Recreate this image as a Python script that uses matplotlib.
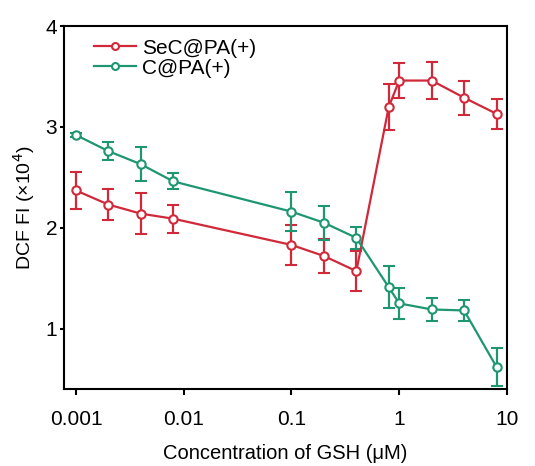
import matplotlib
matplotlib.use("Agg")
import matplotlib.pyplot as plt
from matplotlib.lines import Line2D

conc = [0.001, 0.002, 0.004, 0.008, 0.1, 0.2, 0.4, 0.8, 1, 2, 4, 8]
sec_vals = [2.37, 2.23, 2.14, 2.09, 1.83, 1.72, 1.57, 3.20, 3.46, 3.46, 3.29, 3.13]
sec_err = [0.18, 0.15, 0.20, 0.14, 0.20, 0.17, 0.20, 0.23, 0.17, 0.18, 0.17, 0.15]
c_vals = [2.92, 2.76, 2.63, 2.46, 2.16, 2.05, 1.90, 1.41, 1.25, 1.19, 1.18, 0.62]
c_err = [0.02, 0.09, 0.17, 0.08, 0.19, 0.17, 0.11, 0.21, 0.15, 0.11, 0.10, 0.19]
xticks = [0.001, 0.01, 0.1, 1, 10]
xticklabels = ["0.001", "0.01", "0.1", "1", "10"]
yticks = [1, 2, 3, 4]

plt.rcParams['font.family'] = ['Liberation Sans', 'DejaVu Sans']

fig = plt.figure(figsize=(5.35, 4.66), dpi=100)
ax = fig.add_axes([0.1196, 0.165, 0.828, 0.779])

red = '#d1283a'
green = '#1e9672'
handles = []
for vals, err, col, lab in [(sec_vals, sec_err, red, 'SeC@PA(+)'),
                            (c_vals, c_err, green, 'C@PA(+)')]:
    ax.errorbar(conc, vals, yerr=err, color=col, lw=1.6, marker='o', ms=6,
                mfc='white', mec=col, mew=1.5, capsize=4, capthick=1.6,
                elinewidth=1.6)
    handles.append(Line2D([], [], color=col, lw=1.6, marker='o', ms=5,
                          mfc='white', mec=col, mew=1.5, label=lab))

ax.set_xscale('log')
ax.set_xlim(0.000774, 10)
ax.set_ylim(0.4, 4)
ax.set_xticks(xticks)
ax.set_xticklabels(xticklabels)
ax.xaxis.set_minor_locator(matplotlib.ticker.NullLocator())
ax.set_yticks(yticks)
ax.set_yticklabels([str(v) for v in yticks])
ax.tick_params(axis='x', direction='out', length=4, width=1.5, labelsize=15, pad=11)
ax.tick_params(axis='y', direction='out', length=3, width=1.5, labelsize=15, pad=2)
for s in ax.spines.values():
    s.set_linewidth(1.5)

ax.set_xlabel('Concentration of GSH (μM)', fontsize=14.5, labelpad=11)
ax.set_ylabel('DCF FI (×10$^4$)', fontsize=14, labelpad=6)

ax.legend(handles=handles, loc='upper left', frameon=False, fontsize=15,
          handlelength=2.0, handletextpad=0.3, labelspacing=0.05,
          borderaxespad=0.2, bbox_to_anchor=(0.04, 1.0))

fig.savefig('out.png', dpi=100)
